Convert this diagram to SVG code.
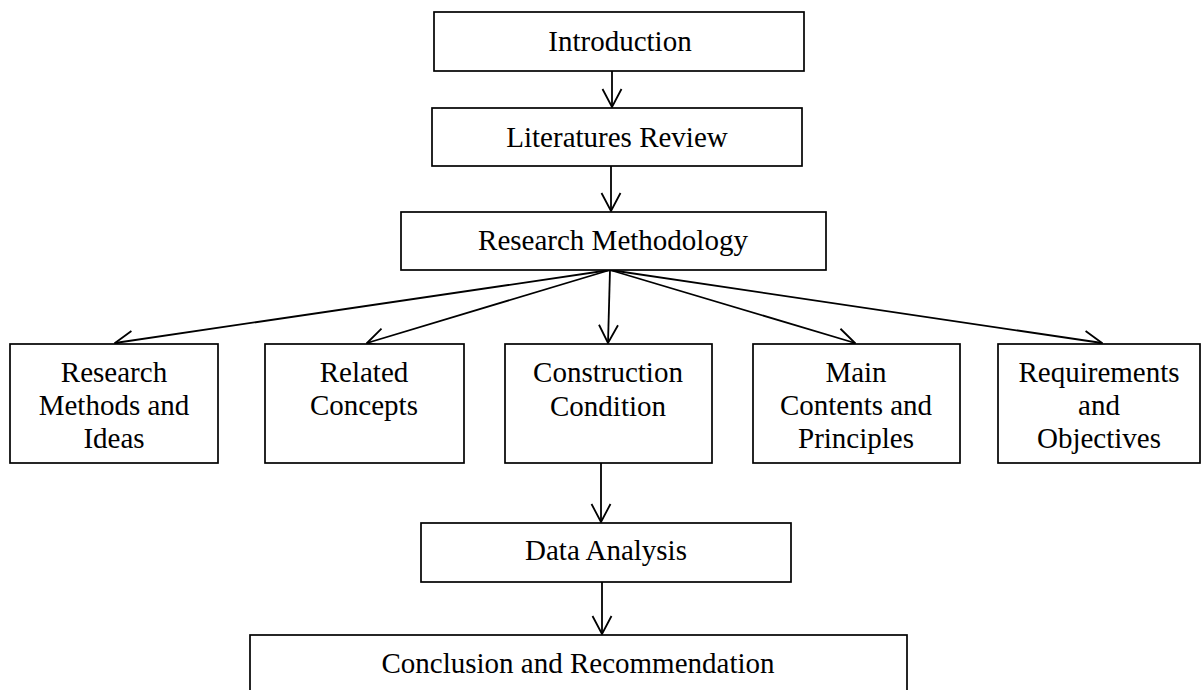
<svg xmlns="http://www.w3.org/2000/svg" width="1202" height="690" viewBox="0 0 1202 690">
  <defs>
    <marker id="arrow" viewBox="0 0 20 22" refX="19" refY="11" markerWidth="20" markerHeight="22" markerUnits="userSpaceOnUse" orient="auto">
      <polyline points="1,1.5 19,11 1,20.5" fill="none" stroke="#000" stroke-width="1.8"/>
    </marker>
  </defs>
  <style>
    rect { fill: #fff; stroke: #000; stroke-width: 1.7; }
    text { font-family: "Liberation Serif", "Times New Roman", serif; font-size: 29px; fill: #000; text-anchor: middle; }
    .conn line { stroke: #000; stroke-width: 1.8; marker-end: url(#arrow); }
  </style>
  <rect x="0" y="0" width="1202" height="690" style="fill:#fff;stroke:none"/>

  <g class="conn" id="connectors">
    <line x1="612" y1="71" x2="612" y2="107"/>
    <line x1="611" y1="166" x2="611" y2="211"/>
    <line x1="610" y1="270" x2="115" y2="343"/>
    <line x1="610" y1="270" x2="367" y2="343"/>
    <line x1="610" y1="270" x2="608" y2="343"/>
    <line x1="610" y1="270" x2="855" y2="343"/>
    <line x1="610" y1="270" x2="1102" y2="343"/>
    <line x1="601" y1="463" x2="601" y2="522"/>
    <line x1="602" y1="582" x2="602" y2="634"/>
  </g>

  <g id="introduction">
    <rect x="434" y="12" width="370" height="59"/>
    <text x="620" y="51">Introduction</text>
  </g>
  <g id="literatures-review">
    <rect x="432" y="108" width="370" height="58"/>
    <text x="617" y="147">Literatures Review</text>
  </g>
  <g id="research-methodology">
    <rect x="401" y="212" width="425" height="58"/>
    <text x="613" y="250">Research Methodology</text>
  </g>
  <g id="research-methods">
    <rect x="10" y="344" width="208" height="119"/>
    <text x="114" y="382">Research</text>
    <text x="114" y="415">Methods and</text>
    <text x="114" y="448">Ideas</text>
  </g>
  <g id="related-concepts">
    <rect x="265" y="344" width="199" height="119"/>
    <text x="364" y="382">Related</text>
    <text x="364" y="415">Concepts</text>
  </g>
  <g id="construction-condition">
    <rect x="505" y="344" width="207" height="119"/>
    <text x="608" y="382">Construction</text>
    <text x="608" y="416">Condition</text>
  </g>
  <g id="main-contents">
    <rect x="753" y="344" width="207" height="119"/>
    <text x="856" y="382">Main</text>
    <text x="856" y="415">Contents and</text>
    <text x="856" y="448">Principles</text>
  </g>
  <g id="requirements">
    <rect x="998" y="344" width="202" height="119"/>
    <text x="1099" y="382">Requirements</text>
    <text x="1099" y="415">and</text>
    <text x="1099" y="448">Objectives</text>
  </g>
  <g id="data-analysis">
    <rect x="421" y="523" width="370" height="59"/>
    <text x="606" y="560">Data Analysis</text>
  </g>
  <g id="conclusion">
    <rect x="250" y="635" width="657" height="80"/>
    <text x="578" y="673">Conclusion and Recommendation</text>
  </g>
</svg>
